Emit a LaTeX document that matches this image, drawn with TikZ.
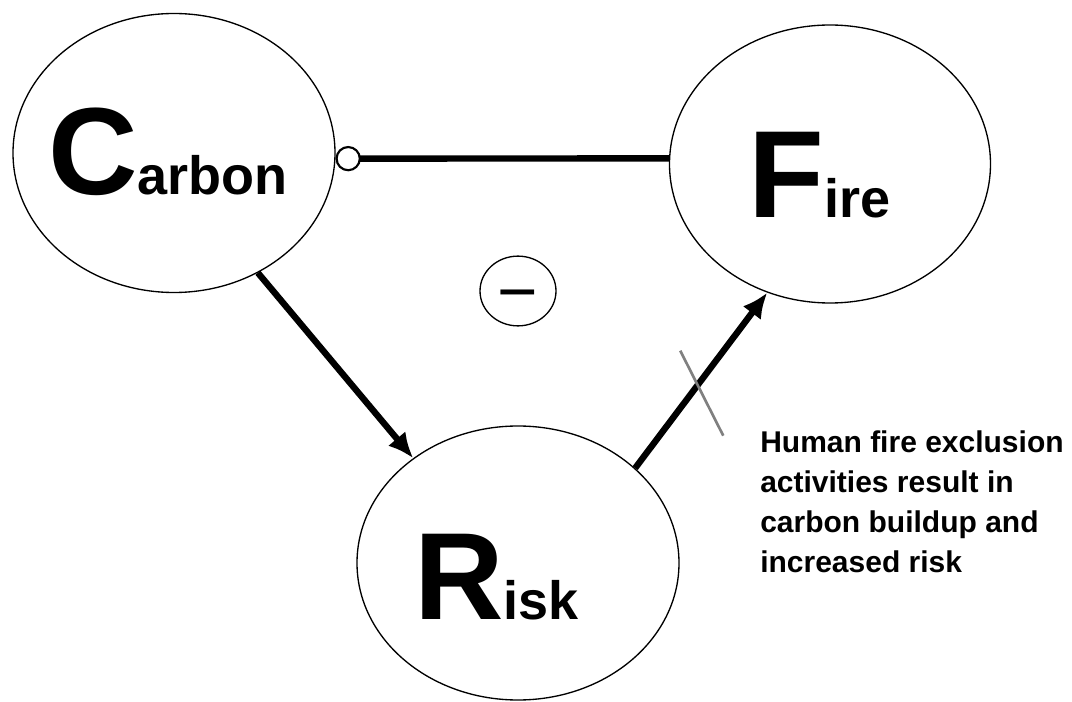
\documentclass[tikz,border=0pt]{standalone}
\usepackage{fontspec}
\setmainfont{Liberation Sans}
\usetikzlibrary{shapes.geometric,arrows.meta,calc}
\newcommand{\capword}[2]{{\fontsize{93pt}{93pt}\selectfont #1}{\fontsize{40.5pt}{40.5pt}\selectfont #2}}
\tikzset{
  bubble/.style={draw, ellipse, inner sep=0pt, line width=1pt},
  link/.style={line width=4.8pt},
  word/.style={anchor=base west, inner sep=0pt, font=\bfseries},
}
\begin{document}
\begin{tikzpicture}[x=0.75pt, y=-0.75pt]
  \useasboundingbox (0,0) rectangle (1072,702);
  \node[bubble, minimum width=241.5pt, minimum height=209.25pt] (carbon) at (174,153) {};
  \node[bubble, minimum width=240.75pt, minimum height=208.5pt] (fire) at (830,164) {};
  \node[bubble, minimum width=241.5pt, minimum height=205.5pt] (risk) at (518,563) {};
  \node[word] (carbonlbl) at (48,195) {\capword{C}{arbon}};
  \node[word] (firelbl) at (748,218) {\capword{F}{ire}};
  \node[word] (risklbl) at (414,619) {\capword{R}{isk}};
  \node[bubble, minimum width=57pt, minimum height=49.5pt, font=\fontsize{52pt}{52pt}\selectfont, text height=37pt, text depth=0pt] (minus) at (518,291) {−};
  \draw[link, {Circle[open, length=19pt, width=19pt, line width=1.6pt]}-] (carbon.-2) -- (fire.178);
  \draw[link, -{Latex[length=19pt, width=17pt]}] (carbon.-55) -- (risk.135);
  \draw[link, -{Latex[length=19pt, width=17pt]}] (risk.39) -- coordinate[pos=0.47] (cut) (fire.244);
  \draw[gray, line width=2pt] ($(cut)+(-17,-35)$) -- ($(cut)+(26,50)$);
  \node[anchor=north west, inner sep=0pt, align=left, font=\bfseries\fontsize{22.5pt}{30pt}\selectfont] (note) at (760,430) {Human fire exclusion\\activities result in\\carbon buildup and\\increased risk};
\end{tikzpicture}
\end{document}
